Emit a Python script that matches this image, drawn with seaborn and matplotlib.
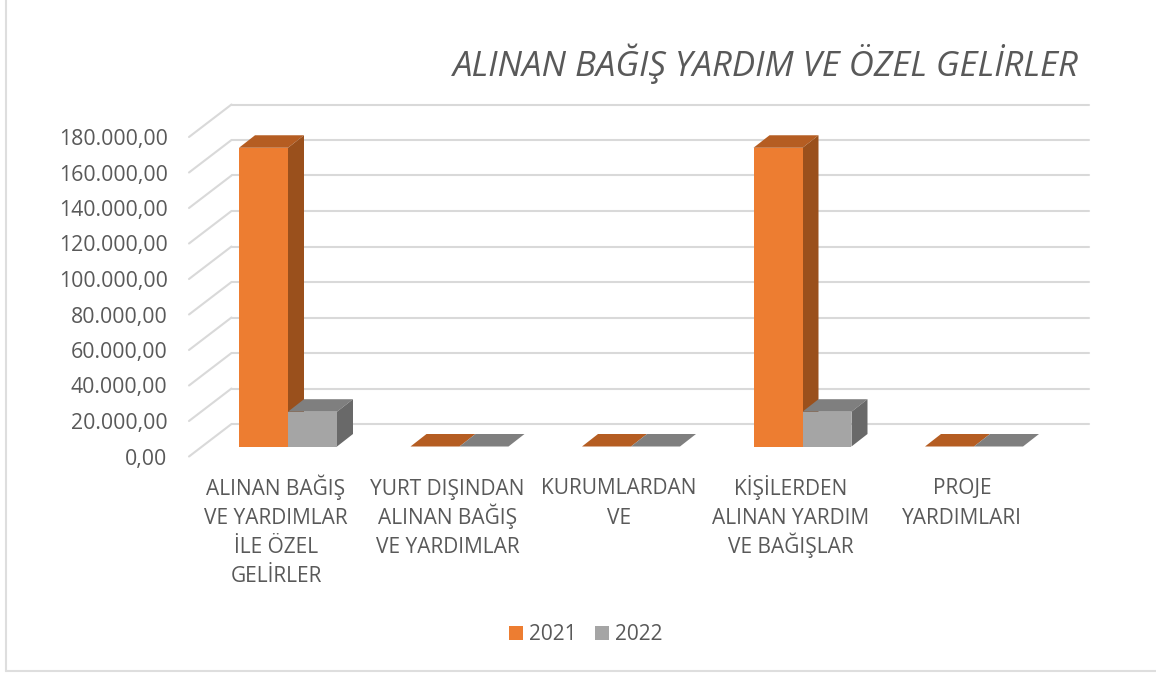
import matplotlib
matplotlib.use('Agg')
import matplotlib.pyplot as plt
from matplotlib.lines import Line2D
from matplotlib.patches import Polygon
from matplotlib.transforms import Affine2D
import pandas as pd
import seaborn as sns

# data
categories = ['ALINAN BAĞIŞ\nVE YARDIMLAR\nİLE ÖZEL\nGELİRLER',
              'YURT DIŞINDAN\nALINAN BAĞIŞ\nVE YARDIMLAR',
              'KURUMLARDAN\nVE',
              'KİŞİLERDEN\nALINAN YARDIM\nVE BAĞIŞLAR',
              'PROJE\nYARDIMLARI']
values_2021 = [168300, 0, 0, 168300, 0]
values_2022 = [19600, 0, 0, 19600, 0]
y_ticks = [0, 20000, 40000, 60000, 80000, 100000, 120000, 140000, 160000, 180000]
y_tick_labels = ['0,00', '20.000,00', '40.000,00', '60.000,00', '80.000,00',
                 '100.000,00', '120.000,00', '140.000,00', '160.000,00', '180.000,00']

W, H = 1156, 675
TEXT = '#595959'
GRID = '#D9D9D9'
FRAME = '#DEDEDE'
front_colors = {'2021': '#ED7D31', '2022': '#A5A5A5'}
top_colors = {'2021': '#B55D22', '2022': '#7F7F7F'}
side_colors = {'2021': '#9A501C', '2022': '#696969'}

sns.set_theme(style='white')
plt.rcParams['font.family'] = ['Open Sans', 'DejaVu Sans']

df = pd.DataFrame({'category': categories * 2,
                   'year': ['2021'] * 5 + ['2022'] * 5,
                   'value': values_2021 + values_2022})

fig = plt.figure(figsize=(W / 100, H / 100), dpi=100)
# axes = the plane of the bar fronts, in pixels
left, right, top, bottom = 202.25, 1059.75, 127.0, 446.5
ax = fig.add_axes([left / W, 1 - bottom / H, (right - left) / W, (bottom - top) / H])
ax.patch.set_alpha(0)

sns.barplot(data=df, x='category', y='value', hue='year', order=categories,
            palette=front_colors, width=0.5714, gap=0, saturation=1, legend=False,
            linewidth=0, zorder=3, ax=ax)
ax.set_xlim(-0.5, 4.5)
ax.set_ylim(0, 180000)
ax.set_xlabel('')
ax.set_ylabel('')
sns.despine(ax=ax, left=True, bottom=True)


def shifted(dx, dy):
    # dx, dy in pixels, dy up
    return ax.transData + Affine2D().translate(dx, dy)


# gridlines: back wall and the slanted part on the side wall
back = shifted(29.25, 22.5)
front = shifted(-13.25, -10)
for tick in y_ticks:
    ax.plot([-0.5, 4.5], [tick, tick], color=GRID, lw=1.5, transform=back, clip_on=False, zorder=1)
    p0 = back.transform((-0.5, tick))
    p1 = front.transform((-0.5, tick))
    ax.add_line(Line2D([p0[0], p1[0]], [p0[1], p1[1]], color=GRID, lw=1.5,
                       transform=None, clip_on=False, zorder=1))

# 3D sides of the bars, taken from the bars seaborn drew
DEPTH_X, DEPTH_Y = 16, 12.5
years = ['2021'] * 5 + ['2022'] * 5
for bar, year in zip(list(ax.patches), years):
    x0, x1 = bar.get_x(), bar.get_x() + bar.get_width()
    h = bar.get_height()
    a = ax.transData.transform((x0, h))
    b = ax.transData.transform((x1, h))
    c = ax.transData.transform((x1, 0))
    d = (DEPTH_X, DEPTH_Y)
    top_face = [a, b, b + d, a + d]
    ax.add_patch(Polygon(top_face, closed=True, fc=top_colors[year], ec='none',
                         transform=None, clip_on=False, zorder=2.5))
    if h > 0:
        side_face = [b, c, c + d, b + d]
        ax.add_patch(Polygon(side_face, closed=True, fc=side_colors[year], ec='none',
                             transform=None, clip_on=False, zorder=2.5))

# tick labels
ax.set_yticks(y_ticks)
ax.set_yticklabels(y_tick_labels, fontsize=15.3, color=TEXT)
ax.tick_params(axis='y', length=0, pad=25)
ax.set_xticks(range(len(categories)))
ax.set_xticklabels([])
ax.tick_params(axis='x', length=0)
for label in ax.get_yticklabels():
    label.set_transform(label.get_transform() + Affine2D().translate(0, -10))

# category labels line by line, matplotlib's own line spacing is uneven with Ş and Ğ
for i, category in enumerate(categories):
    x_px = ax.transData.transform((i, 0))[0] - 12
    for j, line in enumerate(category.split('\n')):
        fig.text(x_px / W, 1 - (494.5 + 29.3 * j) / H, line, fontsize=15, color=TEXT,
                 ha='center', va='baseline')

fig.text(765.5 / W, 1 - 64 / H, 'ALINAN BAĞIŞ YARDIM VE ÖZEL GELİRLER', fontsize=25,
         style='italic', color=TEXT, ha='center', va='center')

# legend
handles = [plt.Rectangle((0, 0), 1, 1, fc=front_colors[y], ec='none') for y in ['2021', '2022']]
fig.legend(handles, ['2021', '2022'], loc='center', bbox_to_anchor=(586 / W, 1 - 635 / H),
           ncol=2, frameon=False, fontsize=15, labelcolor=TEXT, handlelength=0.67,
           handleheight=0.67, handletextpad=0.29, columnspacing=0.87)

# chart frame
fig.add_artist(Line2D([5.5 / W, 5.5 / W], [1, 1 - 671 / H], color=FRAME, lw=1.5))
fig.add_artist(Line2D([5.5 / W, 1], [1 - 671 / H, 1 - 671 / H], color=FRAME, lw=1.5))

fig.savefig('out.png', dpi=100, facecolor='white')
